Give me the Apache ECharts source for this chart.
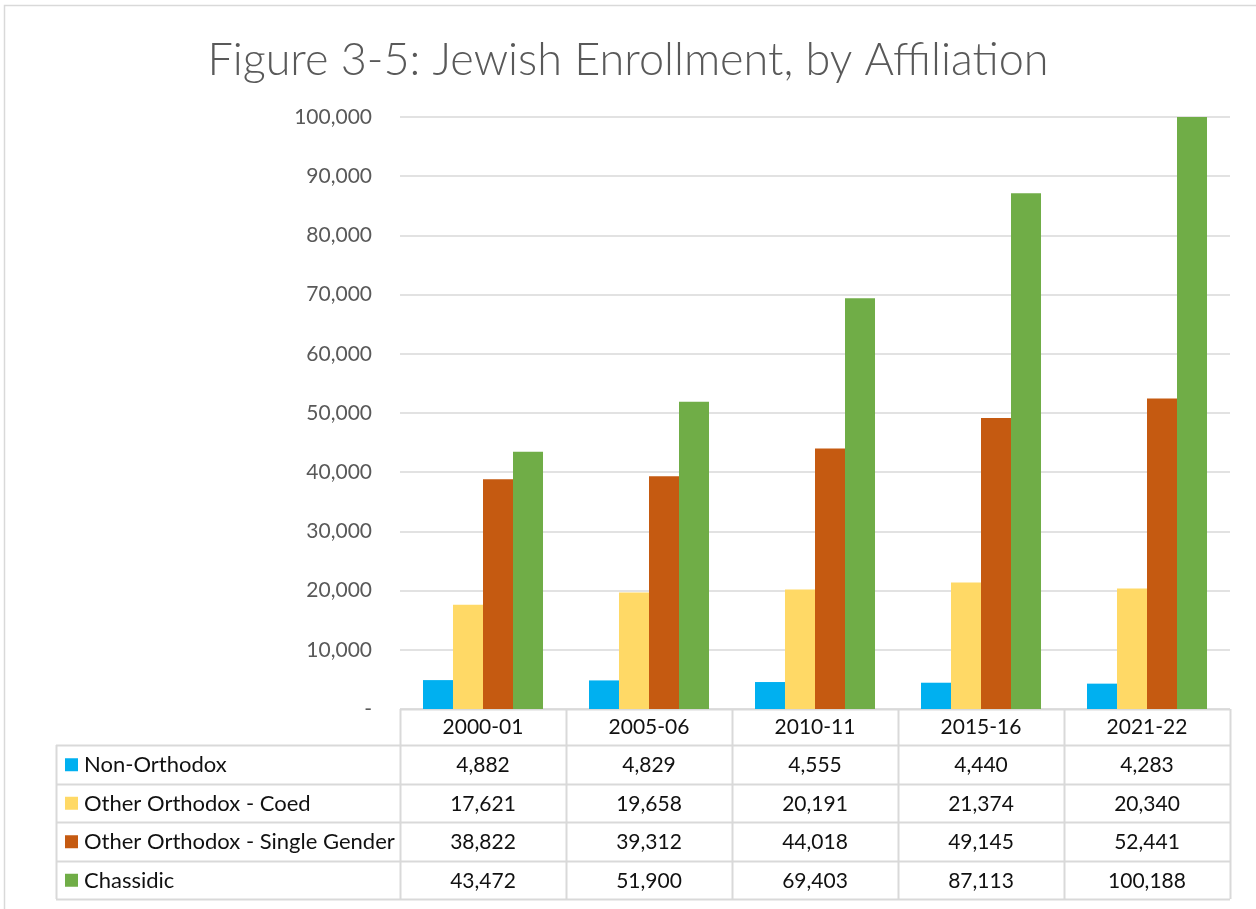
<!DOCTYPE html>
<html>
<head>
<meta charset="utf-8">
<script src="https://cdn.jsdelivr.net/npm/echarts@6/dist/echarts.min.js"></script>
<style>
  html, body { margin: 0; padding: 0; background: #fff; }
  #chart { width: 1256px; height: 909px; }
</style>
</head>
<body>
<div id="chart"></div>
<script>
// School years shown along the category axis
const years = ['2000-01', '2005-06', '2010-11', '2015-16', '2021-22'];

// Enrollment by affiliation
const nonOrthodox = [4882, 4829, 4555, 4440, 4283];
const orthodoxCoed = [17621, 19658, 20191, 21374, 20340];
const orthodoxSingleGender = [38822, 39312, 44018, 49145, 52441];
const chassidic = [43472, 51900, 69403, 87113, 100188];

const seriesNames = ['Non-Orthodox', 'Other Orthodox - Coed', 'Other Orthodox - Single Gender', 'Chassidic'];
const seriesColors = ['#00b0f0', '#ffd966', '#c55a11', '#70ad47'];
const seriesValues = [nonOrthodox, orthodoxCoed, orthodoxSingleGender, chassidic];

const yMax = 100000;
const yStep = 10000;

// plot frame (pixels)
const G = { left: 400, right: 1230, top: 117, bottom: 709 };
const FONT = 'Lato, "Open Sans", sans-serif';
const LINE = '#d9d9d9';
const INK = '#111';

const fmt = v => v.toLocaleString('en-US');

const chart = echarts.init(document.getElementById('chart'), null, { renderer: 'canvas' });

// data table beneath the plot
function buildTable() {
  const els = [];
  const colW = (G.right - G.left) / years.length;
  const headerBottom = 745;
  const rowH = 38.5;
  const tableLeft = 56;
  const tableBottom = headerBottom + rowH * seriesNames.length;

  // outer frame around the whole chart
  els.push({ type: 'rect', shape: { x: 4.5, y: 5.5, width: 1300, height: 1000 },
    style: { fill: null, stroke: LINE, lineWidth: 1.5 }, silent: true });

  // horizontal rules
  els.push({ type: 'line', shape: { x1: G.left, y1: G.bottom + 0.5, x2: G.right, y2: G.bottom + 0.5 },
    style: { stroke: LINE, lineWidth: 2 } });
  for (let i = 0; i <= seriesNames.length; i++) {
    const y = Math.round(headerBottom + rowH * i) + 0.5;
    els.push({ type: 'line', shape: { x1: tableLeft, y1: y, x2: G.right, y2: y },
      style: { stroke: LINE, lineWidth: 2 } });
  }
  // vertical rules
  els.push({ type: 'line', shape: { x1: tableLeft + 0.5, y1: headerBottom, x2: tableLeft + 0.5, y2: tableBottom },
    style: { stroke: LINE, lineWidth: 2 } });
  for (let c = 0; c <= years.length; c++) {
    const x = Math.round(G.left + colW * c) + 0.5;
    els.push({ type: 'line', shape: { x1: x, y1: G.bottom, x2: x, y2: tableBottom },
      style: { stroke: LINE, lineWidth: 2 } });
  }
  // row legends and values
  seriesNames.forEach((name, r) => {
    const cy = headerBottom + rowH * r + rowH / 2;
    els.push({ type: 'rect', shape: { x: 65, y: cy - 6, width: 13, height: 13 },
      style: { fill: seriesColors[r] } });
    els.push({ type: 'text', x: 84, y: cy + 1,
      style: { text: name, fill: INK, font: '22px ' + FONT, textAlign: 'left', textVerticalAlign: 'middle' } });
    seriesValues[r].forEach((v, c) => {
      els.push({ type: 'text', x: G.left + colW * c + colW / 2, y: cy + 1,
        style: { text: fmt(v), fill: INK, font: '21px ' + FONT, textAlign: 'center', textVerticalAlign: 'middle' } });
    });
  });
  return els;
}

chart.setOption({
  animation: false,
  backgroundColor: '#fff',
  title: {
    text: 'Figure 3-5: Jewish Enrollment, by Affiliation',
    left: 'center',
    top: 33,
    textStyle: { fontFamily: FONT, fontWeight: 300, fontSize: 45, color: '#595959' }
  },
  grid: { left: G.left, right: 1256 - G.right, top: G.top, bottom: 909 - G.bottom, containLabel: false },
  xAxis: {
    type: 'category',
    data: years,
    axisLine: { show: false },
    axisTick: { show: false },
    axisLabel: { fontFamily: FONT, fontSize: 21, color: INK, margin: 8 }
  },
  yAxis: {
    type: 'value',
    min: 0,
    max: yMax,
    interval: yStep,
    axisLine: { show: false },
    axisTick: { show: false },
    splitLine: { lineStyle: { color: LINE, width: 1.5 } },
    axisLabel: {
      fontFamily: FONT, fontSize: 21, color: '#595959', margin: 28,
      formatter: v => (v === 0 ? '-' : fmt(v))
    }
  },
  series: seriesNames.map((name, i) => ({
    name,
    type: 'bar',
    data: seriesValues[i],
    itemStyle: { color: seriesColors[i] },
    barGap: '0%',
    barCategoryGap: '27.7%',
    clip: true
  })),
  graphic: buildTable()
});
</script>
</body>
</html>
